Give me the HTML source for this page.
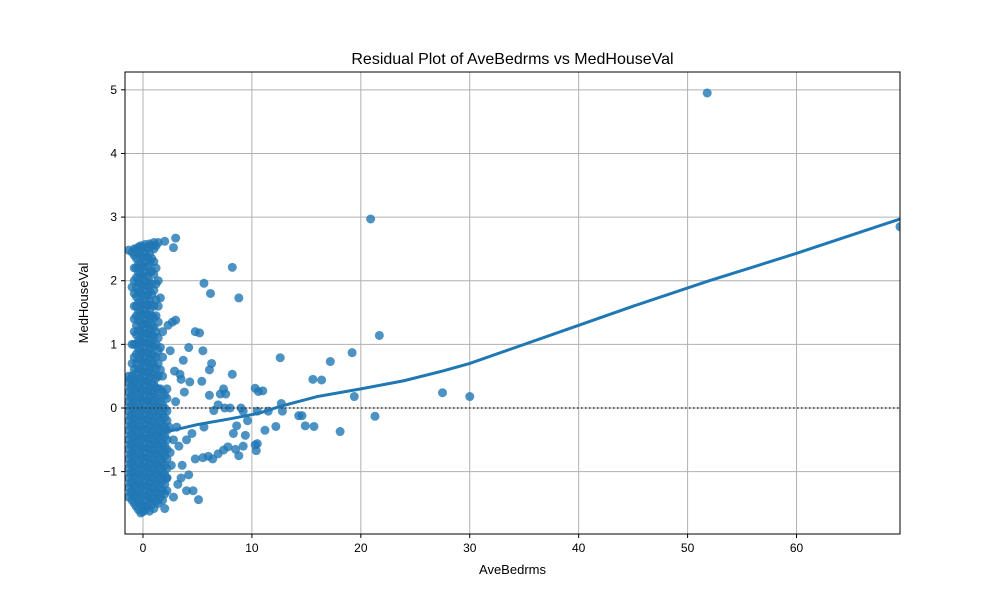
<!DOCTYPE html>
<html><head><meta charset="utf-8"><style>
body{margin:0;background:#fff;font-family:"Liberation Sans",sans-serif}
</style></head><body>
<svg id="chart" width="1000" height="600" xmlns="http://www.w3.org/2000/svg" font-family="Liberation Sans, sans-serif"></svg>
<script>
const outliers=[[51.8,4.95],[69.5,2.85],[20.9,2.97],[21.7,1.14],[19.2,0.87],[17.2,0.73],[16.4,0.44],[15.6,0.45],[19.4,0.18],[27.5,0.24],[30,0.18],[21.3,-0.13],[18.1,-0.37],[15.7,-0.29],[14.9,-0.28],[14.6,-0.12],[14.3,-0.12],[12.6,0.79],[12.7,0.07],[12.8,-0.05],[12.2,-0.29],[11.2,-0.35],[11.5,-0.05],[10.5,-0.05],[10.3,0.31],[10.6,0.26],[11,0.27],[10.4,-0.67],[10.5,-0.56],[10.3,-0.58],[9.4,-0.43],[9.2,-0.6],[8.8,-0.75],[8.5,-0.65],[9,0],[8.2,2.21],[8.8,1.73],[6.2,1.8],[5.6,1.96],[5.2,1.18],[4.8,1.2],[5.5,0.9],[4.2,0.95],[6.3,0.7],[6.1,0.6],[8.2,0.53],[7.4,0.3],[7.1,0.22],[7.6,0.22],[5.4,0.42],[6.1,0.2],[6.9,0.05],[7.5,0],[8,0],[9.2,-0.05],[9.6,-0.2],[8.6,-0.28],[8.3,-0.4],[7.8,-0.61],[7.4,-0.66],[6.9,-0.72],[6.4,-0.8],[6.0,-0.76],[5.5,-0.78],[4.8,-0.8],[5.1,-1.44],[4.6,-1.3],[4.0,-1.3],[3.5,-1.1],[2.8,-1.4],[2.0,-1.58],[3,2.67],[2.8,2.52],[2.0,2.62],[1.6,1.73],[2.3,1.3],[2.7,1.35],[3.0,1.38],[3.7,0.75],[3.4,0.53],[3.5,0.45],[4.3,0.41],[3.8,0.25],[2.9,0.58],[2.5,0.9],[5.6,-0.3],[6.5,-0.04],[4.5,-0.4],[4.0,-0.5],[3.3,-0.6],[2.6,-0.9],[3.6,-0.9],[4.2,-1.05],[3.2,-1.2],[2.4,-0.3],[2.8,-0.5],[3.0,0.1],[2.2,-1.1],[2.5,-0.7],[3.1,-0.3],[2.2,0.3]];
const blobCols=[
[-1.3,[-1.4,-1.25,-1.1,-0.95,-0.8,-0.65,-0.5,-0.35,-0.2,-0.05,0.1,0.25,0.4,0.5,2.48]],
[-1.15,[-1.33,-1.18,-1.03,-0.88,-0.73,-0.58,-0.43,-0.28,-0.13,0.02,0.17,0.32,0.45]],
[-1.0,[-1.45,-1.3,-1.15,-1.0,-0.85,-0.7,-0.55,-0.4,-0.25,-0.1,0.05,0.2,0.35,0.5,0.7,1.0,1.9,2.45]],
[-0.8,[-1.5,-1.37,-1.22,-1.07,-0.92,-0.77,-0.62,-0.47,-0.32,-0.17,-0.02,0.13,0.28,0.43,0.6,0.8,1.0,1.2,1.4,1.6,1.8,2.0,2.2,2.4,2.5]],
[-0.6,[-1.55,-1.4,-1.25,-1.1,-0.95,-0.8,-0.65,-0.5,-0.35,-0.2,-0.05,0.1,0.25,0.4,0.55,0.7,0.85,1.0,1.15,1.3,1.45,1.6,1.75,1.9,2.05,2.2,2.35,2.5]],
[-0.4,[-1.6,-1.48,-1.33,-1.18,-1.03,-0.88,-0.73,-0.58,-0.43,-0.28,-0.13,0.02,0.17,0.32,0.47,0.62,0.77,0.92,1.07,1.22,1.37,1.52,1.67,1.82,1.97,2.12,2.27,2.42,2.53]],
[-0.2,[-1.65,-1.5,-1.35,-1.2,-1.05,-0.9,-0.75,-0.6,-0.45,-0.3,-0.15,0,0.15,0.3,0.45,0.6,0.75,0.9,1.05,1.2,1.35,1.5,1.65,1.8,1.95,2.1,2.25,2.4,2.55]],
[0.0,[-1.63,-1.53,-1.38,-1.23,-1.08,-0.93,-0.78,-0.63,-0.48,-0.33,-0.18,-0.03,0.12,0.27,0.42,0.57,0.72,0.87,1.02,1.17,1.32,1.47,1.62,1.77,1.92,2.07,2.22,2.37,2.52]],
[0.2,[-1.6,-1.45,-1.3,-1.15,-1.0,-0.85,-0.7,-0.55,-0.4,-0.25,-0.1,0.05,0.2,0.35,0.5,0.65,0.8,0.95,1.1,1.25,1.4,1.55,1.7,1.85,2.0,2.15,2.3,2.45,2.57]],
[0.4,[-1.55,-1.38,-1.23,-1.08,-0.93,-0.78,-0.63,-0.48,-0.33,-0.18,-0.03,0.12,0.27,0.42,0.57,0.72,0.87,1.02,1.17,1.32,1.47,1.62,1.77,1.92,2.07,2.22,2.37,2.52]],
[0.6,[-1.62,-1.47,-1.32,-1.17,-1.02,-0.87,-0.72,-0.57,-0.42,-0.27,-0.12,0.03,0.18,0.33,0.48,0.63,0.78,0.93,1.08,1.23,1.38,1.53,1.68,1.83,1.98,2.13,2.28,2.43,2.58]],
[0.8,[-1.52,-1.4,-1.25,-1.1,-0.95,-0.8,-0.65,-0.5,-0.35,-0.2,-0.05,0.1,0.25,0.4,0.55,0.7,0.85,1.0,1.15,1.3,1.45,1.62,1.78,1.95,2.15,2.35,2.55]],
[1.0,[-1.58,-1.43,-1.28,-1.13,-0.98,-0.83,-0.68,-0.53,-0.38,-0.23,-0.08,0.07,0.22,0.37,0.52,0.67,0.82,0.97,1.12,1.27,1.42,1.6,1.85,2.1,2.3,2.5,2.6]],
[1.2,[-1.47,-1.33,-1.18,-1.03,-0.88,-0.73,-0.58,-0.43,-0.28,-0.13,0.02,0.17,0.32,0.47,0.62,0.8,1.0,1.2,1.45,1.7,1.95,2.2,2.55]],
[1.4,[-1.5,-1.35,-1.2,-1.05,-0.9,-0.75,-0.6,-0.45,-0.3,-0.15,0,0.15,0.3,0.5,0.7,0.9,1.1,1.35,1.6,2.0,2.6]],
[1.6,[-1.4,-1.25,-1.1,-0.95,-0.8,-0.65,-0.5,-0.35,-0.2,-0.05,0.1,0.3,0.6,0.95]],
[1.8,[-1.45,-1.3,-1.15,-1.0,-0.85,-0.7,-0.55,-0.4,-0.25,-0.1,0.05,0.25,0.5,0.8,1.2]],
[2.0,[-1.35,-1.2,-1.05,-0.9,-0.75,-0.6,-0.45,-0.3,-0.15,0.0,0.2]],
[2.2,[-1.3,-1.1,-0.95,-0.8,-0.65,-0.5,-0.35,-0.2,-0.05,0.15]]
];
const lowessX=[-1.5,0,2,5,8,10.7,12.5,14,16,20,24,27.5,30,35,40,45,52,60,69.5];
const lowessY=[-0.55,-0.45,-0.38,-0.26,-0.17,-0.08,0.02,0.09,0.18,0.3,0.43,0.58,0.7,1.0,1.3,1.6,2.0,2.43,2.97];
const xTicks=[0,10,20,30,40,50,60];
const yTicks=[-1,0,1,2,3,4,5];

const L=125,R=900,T=72,B=534,xmin=-1.65,xmax=69.5,ymin=-1.98,ymax=5.28;
const sx=v=>L+(v-xmin)/(xmax-xmin)*(R-L);
const sy=v=>B-(v-ymin)/(ymax-ymin)*(B-T);
const svg=document.getElementById('chart');
const NS='http://www.w3.org/2000/svg';
function mk(t,a,p){const e=document.createElementNS(NS,t);for(const k in a)e.setAttribute(k,a[k]);(p||svg).appendChild(e);return e;}
const clip=mk('clipPath',{id:'c'});mk('rect',{x:L,y:T,width:R-L,height:B-T},clip);
const grid=mk('g',{});


xTicks.forEach(v=>{const x=sx(v);
 const l=mk('line',{x1:x,x2:x,y1:T,y2:B,stroke:'#b0b0b0','stroke-width':1},grid);
 
 
 mk('line',{x1:x,x2:x,y1:B,y2:B+4,stroke:'#000'});
 const t=mk('text',{x:x,y:B+18,'text-anchor':'middle','font-size':12});t.textContent=v;
 
 });
yTicks.forEach(v=>{const y=sy(v);
 const l=mk('line',{x1:L,x2:R,y1:y,y2:y,stroke:'#b0b0b0','stroke-width':1},grid);
 
 
 mk('line',{x1:L-4,x2:L,y1:y,y2:y,stroke:'#000'});
 const t=mk('text',{x:L-8,y:y+4,'text-anchor':'end','font-size':12});t.textContent=v<0?'\u2212'+(-v):v;
 
 });
const pts=mk('g',{'clip-path':'url(#c)',fill:'#1f77b4','fill-opacity':0.8});


const all=[];blobCols.forEach(c=>c[1].forEach(y=>all.push([c[0],y])));outliers.forEach(p=>all.push(p));
all.forEach(p=>{const c=mk('circle',{cx:sx(p[0]),cy:sy(p[1]),r:4.5},pts);
 
 });
const zl=mk('line',{x1:L,x2:R,y1:sy(0),y2:sy(0),stroke:'#333','stroke-width':1.5,'stroke-dasharray':'1.5,2.5'});


const lw=mk('polyline',{points:lowessX.map((x,i)=>sx(x)+','+sy(lowessY[i])).join(' '),fill:'none',stroke:'#1f77b4','stroke-width':3,'clip-path':'url(#c)'});


const fr=mk('rect',{x:L,y:T,width:R-L,height:B-T,fill:'none',stroke:'#000','stroke-width':1});


const ti=mk('text',{x:(L+R)/2,y:64,'text-anchor':'middle','font-size':16});ti.textContent='Residual Plot of AveBedrms vs MedHouseVal';


const xl=mk('text',{x:(L+R)/2,y:574,'text-anchor':'middle','font-size':13});xl.textContent='AveBedrms';


const yl=mk('text',{x:88,y:(T+B)/2,'text-anchor':'middle','font-size':13,transform:'rotate(-90 88 '+((T+B)/2)+')'});yl.textContent='MedHouseVal';


</script>
</body></html>
